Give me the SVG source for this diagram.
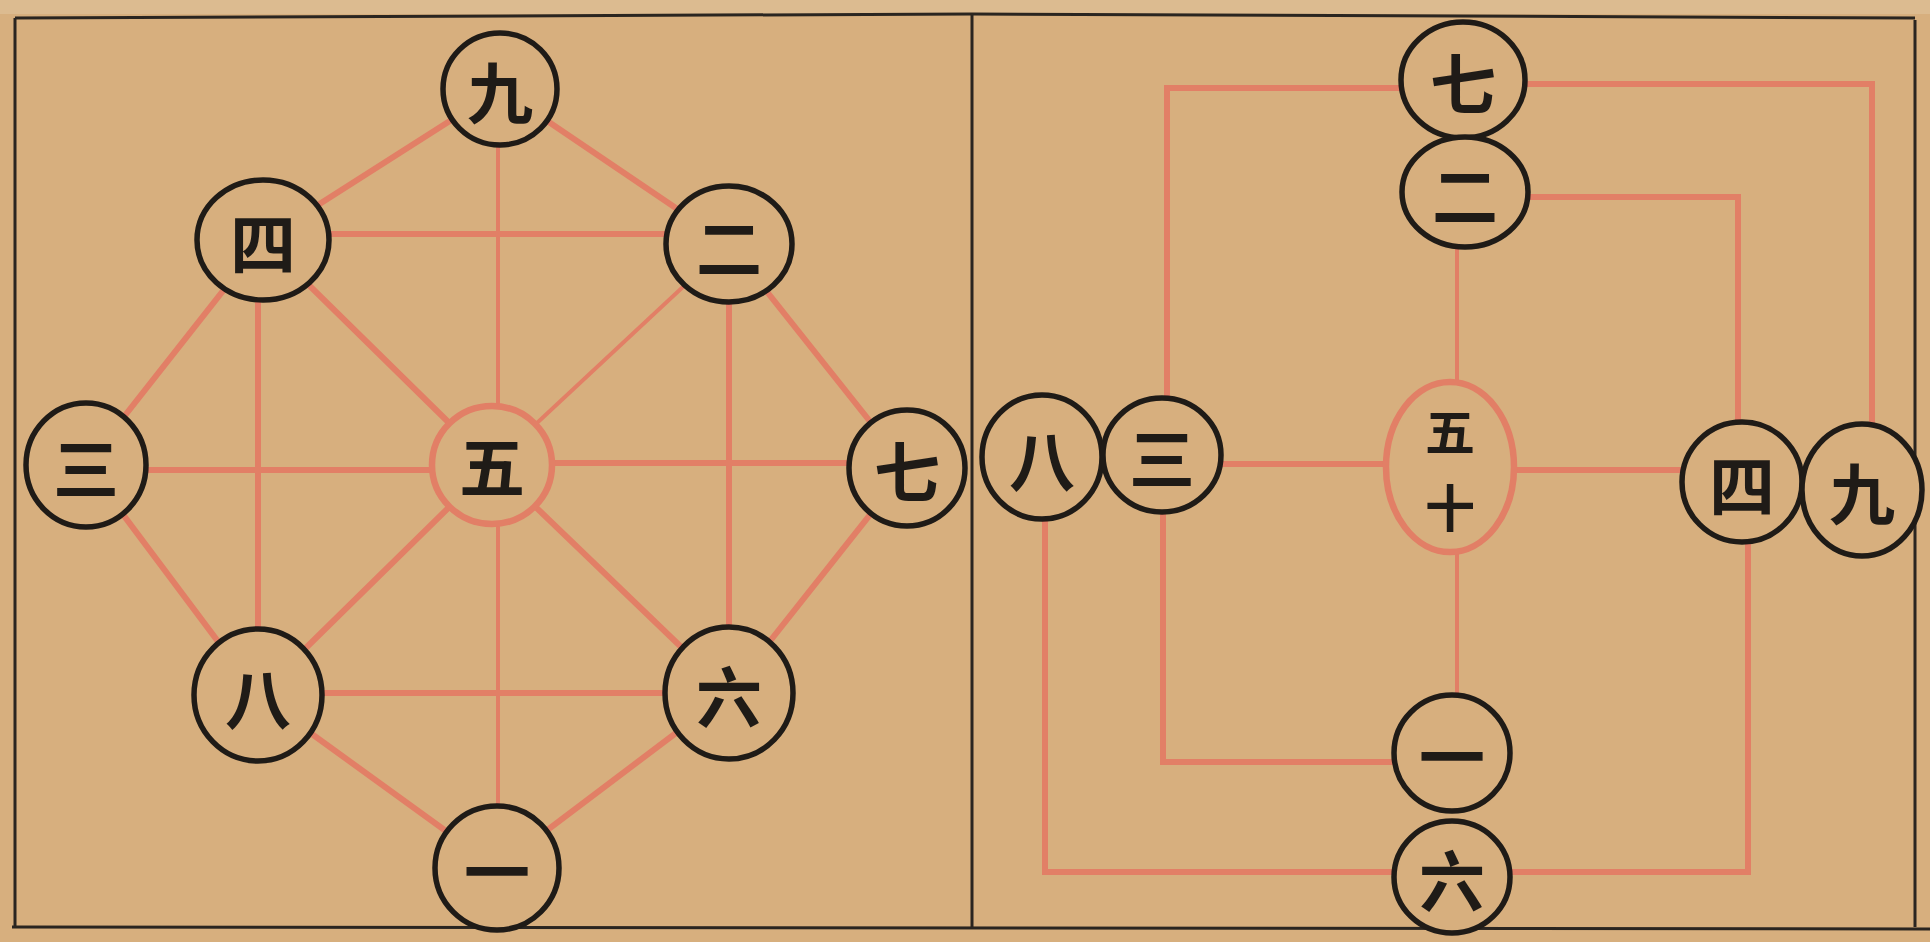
<svg xmlns="http://www.w3.org/2000/svg" width="1930" height="942" viewBox="0 0 1930 942">
<style>
.bg{fill:#d7af7e}
.frame{stroke:#2a2520;stroke-width:3;fill:none}
.red{stroke:#e27f66;stroke-width:6;fill:none;stroke-linecap:round;stroke-linejoin:miter}
.thin{stroke-width:4}
.node{fill:#d7af7e;stroke:#1f1b17;stroke-width:5.5}
.rnode{fill:#d7af7e;stroke:#e27f66;stroke-width:6.5}
.t{font-family:"Noto Sans CJK SC","Noto Sans CJK JP",sans-serif;font-size:66px;font-weight:700;fill:#1f1b17;text-anchor:middle;dominant-baseline:central}
.s{font-size:50px}
</style>
<rect class="bg" x="0" y="0" width="1930" height="942"/>
<rect x="0" y="0" width="1930" height="14" fill="#dcbb90"/>
<g id="frame">
<path class="frame" d="M15,18 L972,14 L1915,18" stroke-width="4"/>
<path class="frame" d="M15,18 V927"/>
<path class="frame" d="M972,14 V927"/>
<path class="frame" d="M1915,20 V927"/>
<path class="frame" d="M12,927 L1930,929" stroke-width="4"/>
</g>
<g id="connectors">
<!-- left panel -->
<path class="red thin" d="M498,89 V868"/>
<path class="red" d="M263,234 H729"/>
<path class="red" d="M258,240 V695"/>
<path class="red" d="M729,244 V693"/>
<path class="red" d="M86,470 H492"/>
<path class="red" d="M492,463 H907"/>
<path class="red" d="M258,693 H729"/>
<path class="red" d="M500,89 L263,240"/>
<path class="red" d="M500,89 L729,244"/>
<path class="red" d="M263,240 L86,465"/>
<path class="red" d="M729,244 L907,468"/>
<path class="red" d="M263,240 L492,465"/>
<path class="red thin" d="M729,244 L492,465"/>
<path class="red" d="M86,465 L258,695"/>
<path class="red" d="M907,468 L729,693"/>
<path class="red" d="M492,465 L258,695"/>
<path class="red" d="M492,465 L729,693"/>
<path class="red" d="M258,695 L497,868"/>
<path class="red" d="M729,693 L497,868"/>
<!-- right panel -->
<path class="red" d="M1463,88 H1167 V455"/>
<path class="red" d="M1463,84 H1872 V490"/>
<path class="red" d="M1465,197 H1738 V482"/>
<path class="red thin" d="M1457,192 V753"/>
<path class="red" d="M1162,464 H1450"/>
<path class="red" d="M1450,470 H1742"/>
<path class="red" d="M1163,455 V762 H1452"/>
<path class="red" d="M1045,457 V872 H1452"/>
<path class="red" d="M1748,482 V872 H1452"/>
</g>
<!-- left panel nodes -->
<g id="L9"><ellipse class="node" cx="500" cy="89" rx="57" ry="56"/><text class="t" x="500" y="89">九</text></g>
<g id="L4"><ellipse class="node" cx="263" cy="240" rx="66" ry="60"/><text class="t" x="263" y="240">四</text></g>
<g id="L2"><ellipse class="node" cx="729" cy="244" rx="63" ry="58"/><text class="t" x="729" y="244">二</text></g>
<g id="L3"><ellipse class="node" cx="86" cy="465" rx="60" ry="62"/><text class="t" x="86" y="465">三</text></g>
<g id="L5"><ellipse class="rnode" cx="492" cy="465" rx="60" ry="59"/><text class="t" x="492" y="463">五</text></g>
<g id="L7"><ellipse class="node" cx="907" cy="468" rx="58" ry="58"/><text class="t" x="907" y="468">七</text></g>
<g id="L8"><ellipse class="node" cx="258" cy="695" rx="64" ry="66"/><text class="t" x="258" y="695">八</text></g>
<g id="L6"><ellipse class="node" cx="729" cy="693" rx="64" ry="66"/><text class="t" x="729" y="693">六</text></g>
<g id="L1"><ellipse class="node" cx="497" cy="868" rx="62" ry="62"/><text class="t" x="497" y="868">一</text></g>
<!-- right panel nodes -->
<g id="R7"><ellipse class="node" cx="1463" cy="80" rx="62" ry="58"/><text class="t" x="1463" y="80">七</text></g>
<g id="R2"><ellipse class="node" cx="1465" cy="192" rx="63" ry="55"/><text class="t" x="1465" y="192">二</text></g>
<g id="R510"><ellipse class="rnode" cx="1450" cy="467" rx="64" ry="85"/><text class="t s" x="1450" y="429">五</text><text class="t s" x="1450" y="505">十</text></g>
<g id="R8"><ellipse class="node" cx="1042" cy="457" rx="60" ry="62"/><text class="t" x="1042" y="457">八</text></g>
<g id="R3"><ellipse class="node" cx="1162" cy="455" rx="59" ry="57"/><text class="t" x="1162" y="455">三</text></g>
<g id="R4"><ellipse class="node" cx="1742" cy="482" rx="60" ry="60"/><text class="t" x="1742" y="482">四</text></g>
<g id="R9"><ellipse class="node" cx="1862" cy="490" rx="60" ry="66"/><text class="t" x="1862" y="490">九</text></g>
<g id="R1"><ellipse class="node" cx="1452" cy="753" rx="58" ry="58"/><text class="t" x="1452" y="753">一</text></g>
<g id="R6"><ellipse class="node" cx="1452" cy="877" rx="58" ry="56"/><text class="t" x="1452" y="877">六</text></g>
</svg>
